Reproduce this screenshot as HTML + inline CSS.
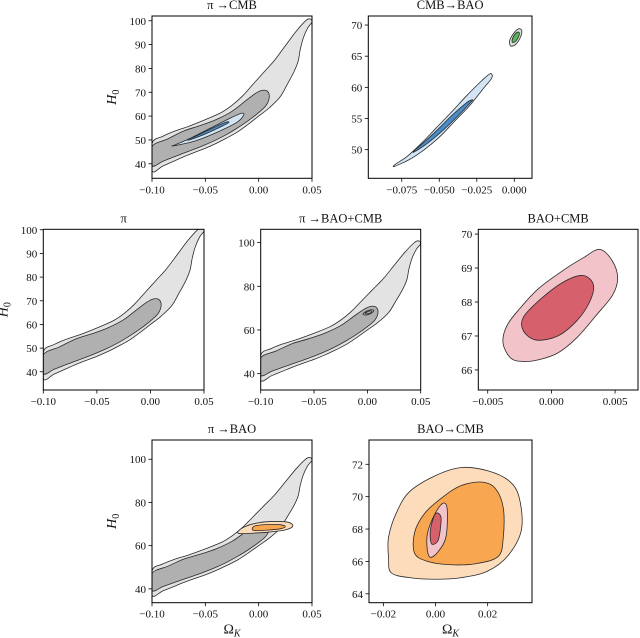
<!DOCTYPE html>
<html><head><meta charset="utf-8">
<style>
html,body{margin:0;padding:0;background:#fff;}
svg{display:block;font-family:"Liberation Serif","DejaVu Serif",serif;}
</style></head>
<body>
<svg id="fig" width="640" height="638" viewBox="0 0 640 638" xmlns="http://www.w3.org/2000/svg"></svg>
<script>
// ---- data: contour vertices as [OmegaK, H0] ----
const bananaOuter = [[-0.1,37],[-0.09,39],[-0.08,41],[-0.07,43],[-0.06,44.8],[-0.05,46.5],[-0.04,48.5],[-0.03,50.8],[-0.02,53.3],[-0.01,56.5],[0,60],[0.01,63.5],[0.02,68],[0.027,73.5],[0.033,78.5],[0.037,83],[0.039,88],[0.042,93],[0.046,97],[0.05,99.5],[0.048,100.8],[0.044,100],[0.035,95.5],[0.025,89.5],[0.015,83.5],[0.005,78.5],[-0.005,73.5],[-0.015,68.5],[-0.025,64.5],[-0.035,61.5],[-0.05,58.5],[-0.065,55.8],[-0.08,53.5],[-0.09,51.5],[-0.1,48.5]];
const bananaInner = [[-0.1,39.2],[-0.09,41],[-0.08,42.8],[-0.07,44.5],[-0.06,46.2],[-0.05,48],[-0.04,50],[-0.03,52.3],[-0.02,55],[-0.01,58],[0,61.5],[0.007,64.5],[0.01,68],[0.008,70.5],[0.003,70.8],[-0.003,69.5],[-0.012,66.5],[-0.025,62],[-0.04,58.5],[-0.055,56],[-0.07,53.8],[-0.085,50.5],[-0.1,47.2]];
const cmbBaoOuter = [[-0.08,47.3],[-0.07,48.4],[-0.06,50],[-0.05,52],[-0.04,54.5],[-0.03,57],[-0.02,60],[-0.015,61.5],[-0.016,62.2],[-0.022,61],[-0.032,58.6],[-0.042,56],[-0.052,53.5],[-0.062,51],[-0.072,48.8],[-0.079,47.7]];
const cmbBaoInner = [[-0.067,49.6],[-0.058,51],[-0.048,53],[-0.038,55.3],[-0.029,57.6],[-0.028,58],[-0.032,57.5],[-0.042,55.4],[-0.052,53],[-0.062,50.8],[-0.066,50]];
const aBlueOuter = [[-0.08,47.5],[-0.06,49.5],[-0.04,53],[-0.02,57.5],[-0.014,60.5],[-0.016,61.2],[-0.025,59.5],[-0.045,55],[-0.065,50.5],[-0.078,48]];
const aBlueInner = [[-0.065,50],[-0.05,52.5],[-0.035,55.6],[-0.028,57.3],[-0.031,57.4],[-0.045,54.6],[-0.06,51.4],[-0.066,50.3]];
const greenOuter = [[-0.002,66.6],[0.001,66.9],[0.004,68],[0.005,69.1],[0.003,69.4],[0,68.8],[-0.003,67.6],[-0.003,66.9]];
const greenInner = [[-0.001,67.2],[0.001,67.4],[0.003,68.2],[0.0032,68.8],[0.0015,68.8],[-0.0005,68.2],[-0.0015,67.5]];
const dSmallOuter = [[-0.003,66.9],[0.001,67],[0.005,68.2],[0.006,69],[0.003,69.2],[-0.001,68.5],[-0.004,67.4]];
const dSmallInner = [[-0.001,67.4],[0.002,67.6],[0.004,68.4],[0.003,68.8],[0,68.3],[-0.002,67.8]];
const eOuter = [[-0.0038,66.8],[-0.0032,66.35],[-0.0022,66.25],[-0.001,66.3],[0.0005,66.5],[0.002,66.95],[0.0035,67.6],[0.0048,68.2],[0.0052,68.7],[0.0048,69.2],[0.0038,69.55],[0.0025,69.3],[0.001,68.95],[-0.001,68.4],[-0.0025,67.8],[-0.0035,67.3]];
const eInner = [[-0.0022,67.15],[-0.0012,66.88],[0.0005,67],[0.002,67.45],[0.003,68],[0.0033,68.5],[0.0025,68.78],[0.001,68.6],[-0.0008,68.1],[-0.0022,67.55]];
const fOrangeOuter = [[-0.018,65.6],[-0.005,65.8],[0.01,66.3],[0.025,67.3],[0.032,69],[0.028,70.8],[0.015,71.2],[0,70.6],[-0.012,69],[-0.019,66.8]];
const fOrangeInner = [[-0.004,67],[0.008,67.2],[0.02,67.8],[0.025,68.8],[0.02,69.7],[0.008,69.8],[-0.003,69.2],[-0.006,68]];
const gOuter = [[-0.017,65.3],[-0.01,65],[0,64.9],[0.01,65],[0.02,65.4],[0.028,66.4],[0.033,68],[0.032,70],[0.028,71],[0.02,71.6],[0.01,71.8],[0,71.3],[-0.01,70.3],[-0.015,69],[-0.018,67.5],[-0.018,66.2]];
const gMid = [[-0.008,66.5],[-0.003,66],[0.005,65.8],[0.015,65.85],[0.024,66.3],[0.026,67.5],[0.026,69.3],[0.023,70.5],[0.018,70.9],[0.01,70.7],[0.003,70],[-0.004,69],[-0.008,67.8]];
const gPink = [[-0.002,66.25],[0.001,66.6],[0.004,67.5],[0.0045,69.2],[0.003,69.6],[0,69],[-0.003,67.8],[-0.0032,66.8]];
const gRed = [[-0.0012,67.05],[0.001,67.3],[0.002,68.2],[0.002,68.8],[0,68.95],[-0.0018,68.1],[-0.002,67.4]];

const ticksA = [40,50,60,70,80,90,100];
const ticksB = [50,55,60,65,70];
const ticksD = [40,60,80,100];
const ticksE = [66,67,68,69,70];
const ticksG = [64,66,68,70,72];
const xticksWide = [-0.1,-0.05,0,0.05];
const xlabWide = ["\u22120.10","\u22120.05","0.00","0.05"];
const xticksB = [-0.075,-0.05,-0.025,0];
const xlabB = ["\u22120.075","\u22120.050","\u22120.025","0.000"];
const xticksE = [-0.005,0,0.005];
const xlabE = ["\u22120.005","0.000","0.005"];
const xticksG = [-0.02,0,0.02];
const xlabG = ["\u22120.02","0.00","0.02"];

const LG="#e3e3e3", DG="#b0b0b0", LB="#d3e5f4", DB="#4a8cc7", LGR="#d4e3d4", GR="#5cb45c", PK="#f2c3c8", RD="#d6606b", LO="#fddcbb", OR="#f9a650";

const panels = [
 {name:"pi-cmb",title:"\u03c0 \u2192CMB",px:[152,312],py:[16,178.3],xl:[-0.1,0.05],yl:[33.9,102.0],xt:xticksWide,xlab:xlabWide,yt:ticksA,ylab:true,xlabel:false,
  layers:[[bananaOuter,LG],[bananaInner,DG],[aBlueOuter,LB],[aBlueInner,DB]]},
 {name:"cmb-bao",title:"CMB\u2192BAO",px:[368.3,532],py:[16,178.3],xl:[-0.0973,0.0118],yl:[45.4,71.45],xt:xticksB,xlab:xlabB,yt:ticksB,ylab:false,xlabel:false,
  layers:[[cmbBaoOuter,LB],[cmbBaoInner,DB],[greenOuter,LGR],[greenInner,GR]]},
 {name:"pi",title:"\u03c0",px:[43.3,204],py:[229.3,390],xl:[-0.1,0.05],yl:[32.3,100.2],xt:xticksWide,xlab:xlabWide,yt:ticksA,ylab:true,xlabel:false,
  layers:[[bananaOuter,LG],[bananaInner,DG]]},
 {name:"pi-bao-cmb",title:"\u03c0 \u2192BAO+CMB",px:[260.7,420.7],py:[229.3,390],xl:[-0.1,0.05],yl:[32.5,106.1],xt:xticksWide,xlab:xlabWide,yt:ticksD,ylab:false,xlabel:false,
  layers:[[bananaOuter,LG],[bananaInner,DG],[dSmallOuter,"none"],[dSmallInner,"none"]]},
 {name:"bao-cmb",title:"BAO+CMB",px:[478.3,638],py:[229.3,390],xl:[-0.00574,0.0068],yl:[65.41,70.14],xt:xticksE,xlab:xlabE,yt:ticksE,ylab:false,xlabel:false,
  layers:[[eOuter,PK],[eInner,RD]]},
 {name:"pi-bao",title:"\u03c0 \u2192BAO",px:[152,312],py:[440,602.7],xl:[-0.1,0.05],yl:[33.6,108.9],xt:xticksWide,xlab:xlabWide,yt:ticksD,ylab:true,xlabel:true,
  layers:[[bananaOuter,LG],[bananaInner,DG],[fOrangeOuter,LO],[fOrangeInner,OR]]},
 {name:"bao-to-cmb",title:"BAO\u2192CMB",px:[369,532],py:[440,602.7],xl:[-0.0255,0.037],yl:[63.45,73.5],xt:xticksG,xlab:xlabG,yt:ticksG,ylab:false,xlabel:true,
  layers:[[gOuter,LO],[gMid,OR],[gPink,PK],[gRed,RD]]}
];

const NS="http://www.w3.org/2000/svg";
const svg=document.getElementById('fig');
function mk(tag,attrs,parent){const e=document.createElementNS(NS,tag);for(const k in attrs)e.setAttribute(k,attrs[k]);parent.appendChild(e);return e;}
function smoothPath(pts){
  const n=pts.length;let d="M"+pts[0][0].toFixed(2)+","+pts[0][1].toFixed(2);
  for(let i=0;i<n;i++){
    const p0=pts[(i-1+n)%n],p1=pts[i],p2=pts[(i+1)%n],p3=pts[(i+2)%n];
    const c1=[p1[0]+(p2[0]-p0[0])/6,p1[1]+(p2[1]-p0[1])/6];
    const c2=[p2[0]-(p3[0]-p1[0])/6,p2[1]-(p3[1]-p1[1])/6];
    d+="C"+c1[0].toFixed(2)+","+c1[1].toFixed(2)+" "+c2[0].toFixed(2)+","+c2[1].toFixed(2)+" "+p2[0].toFixed(2)+","+p2[1].toFixed(2);
  }
  return d+"Z";
}
panels.forEach((P,pi)=>{
  const g=mk('g',{},svg);
  
  
  const sx=v=>P.px[0]+(v-P.xl[0])/(P.xl[1]-P.xl[0])*(P.px[1]-P.px[0]);
  const sy=v=>P.py[1]-(v-P.yl[0])/(P.yl[1]-P.yl[0])*(P.py[1]-P.py[0]);
  const cid='clip'+pi;
  const cp=mk('clipPath',{id:cid},g);
  mk('rect',{x:P.px[0],y:P.py[0],width:P.px[1]-P.px[0],height:P.py[1]-P.py[0]},cp);
  const cg=mk('g',{'clip-path':'url(#'+cid+')'},g);
  P.layers.forEach((L,li)=>{
    const pts=L[0].map(p=>[sx(p[0]),sy(p[1])]);
    const path=mk('path',{d:smoothPath(pts),fill:L[1],stroke:"#2a2a2a","stroke-width":0.8},cg);
    
    
  });
  const fr=mk('rect',{x:P.px[0],y:P.py[0],width:P.px[1]-P.px[0],height:P.py[1]-P.py[0],fill:"none",stroke:"#000","stroke-width":1},g);
  
  
  P.xt.forEach((t,i)=>{
    const x=sx(t);
    mk('line',{x1:x,x2:x,y1:P.py[1],y2:P.py[1]+3.5,stroke:"#000","stroke-width":0.8},g);
    const tx=mk('text',{x:x,y:P.py[1]+15,'text-anchor':'middle','font-size':11,fill:"#111"},g);
    tx.textContent=P.xlab[i];
    
    
  });
  P.yt.forEach(t=>{
    const y=sy(t);
    mk('line',{x1:P.px[0]-3.5,x2:P.px[0],y1:y,y2:y,stroke:"#000","stroke-width":0.8},g);
    const tx=mk('text',{x:P.px[0]-6,y:y+4,'text-anchor':'end','font-size':11,fill:"#111"},g);
    tx.textContent=String(t);
    
    
  });
  const tt=mk('text',{x:(P.px[0]+P.px[1])/2,y:P.py[0]-7,'text-anchor':'middle','font-size':12.5,fill:"#111"},g);
  tt.textContent=P.title;
  
  
  if(P.ylab){
    const cx=P.px[0]-36,cy=(P.py[0]+P.py[1])/2;
    const yl=mk('text',{x:cx,y:cy,'text-anchor':'middle','font-size':14,'font-style':'italic',fill:"#111",transform:'rotate(-90 '+cx+' '+cy+')'},g);
    yl.innerHTML='H<tspan font-size="10" font-style="normal" dy="3">0</tspan>';
    
    
  }
  if(P.xlabel){
    const xl=mk('text',{x:(P.px[0]+P.px[1])/2,y:P.py[1]+31,'text-anchor':'middle','font-size':14,fill:"#111"},g);
    xl.innerHTML='\u03a9<tspan font-size="10" font-style="italic" dy="3">K</tspan>';
    
    
  }
});
</script>
</body></html>
